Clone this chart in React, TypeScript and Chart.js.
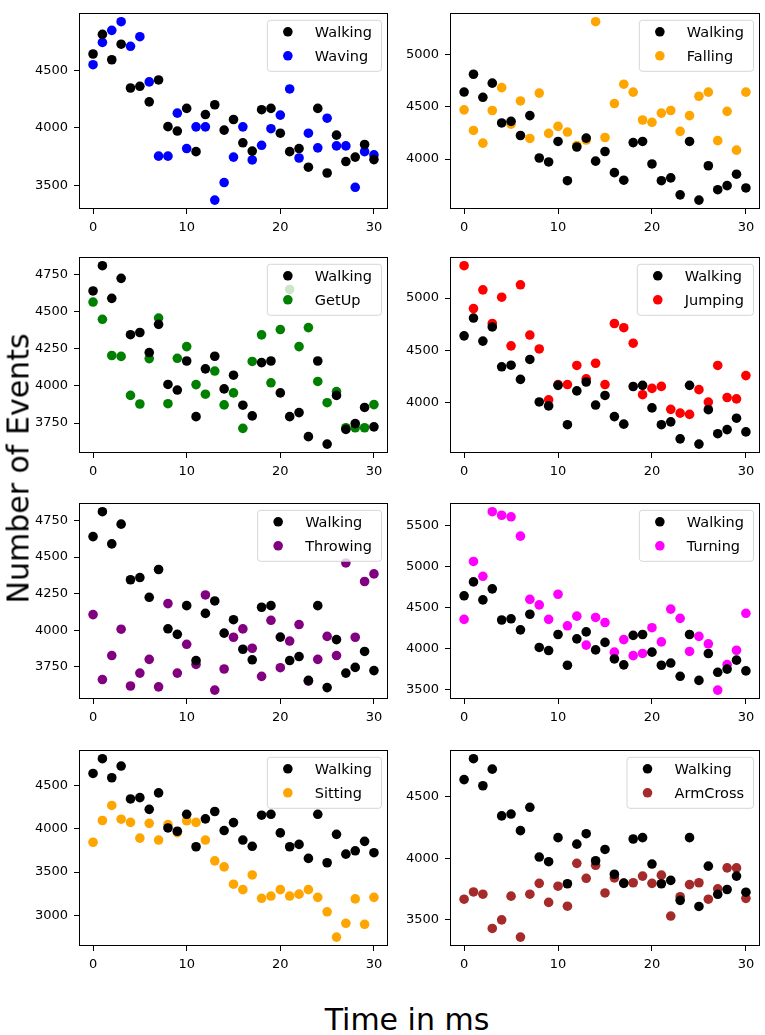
import React, { useEffect, useRef } from 'react';
import { Chart, registerables } from 'chart.js';

Chart.register(...registerables);

// time steps (ms)
const time = [0, 1, 2, 3, 4, 5, 6, 7, 8, 9, 10, 11, 12, 13, 14, 15, 16, 17, 18, 19, 20, 21, 22, 23, 24, 25, 26, 27, 28, 29, 30];
const xTicks = [0, 10, 20, 30];

// event counts per activity
const walking = [4640, 4810, 4590, 4725, 4345, 4360, 4225, 4415, 4010, 3972, 4168, 3793, 4115, 4200, 3980, 4072, 3870, 3798, 4157, 4168, 3953, 3793, 3820, 3658, 4168, 3608, 3936, 3707, 3746, 3855, 3724];
const waving = [4547, 4740, 4845, 4920, 4707, 4790, 4398, 3754, 3754, 4127, 3820, 4008, 4008, 3373, 3525, 3746, 4008, 3721, 3848, 3992, 4110, 4337, 3738, 3953, 3826, 4083, 3843, 3843, 3484, 3793, 3765];
const falling = [4470, 4273, 4152, 4464, 4682, 4333, 4555, 4197, 4630, 4245, 4312, 4258, 4130, 4182, 5312, 4206, 4530, 4715, 4639, 4373, 4351, 4439, 4464, 4264, 4415, 4600, 4639, 4176, 4455, 4085, 4639];
const getUp = [4565, 4449, 4205, 4199, 3936, 3878, 4184, 4457, 3880, 4186, 4265, 4009, 3944, 4100, 3872, 3953, 3714, 4165, 4344, 4021, 4380, 4650, 4265, 4393, 4030, 3887, 3962, 3718, 3718, 3718, 3874];
const jumping = [5309, 4900, 5079, 4758, 5009, 4545, 5127, 4648, 4515, 4030, 4176, 4176, 4358, 4230, 4379, 4176, 4758, 4718, 4570, 4079, 4139, 4158, 3939, 3903, 3891, 4127, 4009, 4358, 4052, 4039, 4261];
const throwing = [4107, 3663, 3827, 4007, 3619, 3707, 3801, 3613, 4182, 3707, 3904, 3766, 4241, 3591, 3735, 3952, 4009, 3877, 3685, 4068, 3744, 3926, 4039, 3652, 3801, 3958, 3827, 4460, 3952, 4333, 4385];
const turning = [4353, 5059, 4878, 5666, 5623, 5604, 5368, 4596, 4529, 4353, 4659, 4274, 4392, 4039, 4376, 4314, 3953, 4106, 3910, 3937, 4251, 4078, 4478, 4365, 3961, 4145, 4055, 3490, 3800, 3976, 4427];
const sitting = [3845, 4096, 4270, 4111, 4074, 3893, 4063, 3870, 4048, 3956, 4093, 4074, 3870, 3630, 3560, 3360, 3297, 3467, 3197, 3223, 3297, 3223, 3245, 3297, 3208, 3041, 2749, 2908, 3190, 2897, 3208];
const armCross = [3667, 3726, 3708, 3429, 3499, 3692, 3359, 3708, 3796, 3641, 3773, 3610, 3959, 3837, 3943, 3718, 3840, 3796, 3801, 3855, 3796, 3863, 3530, 3687, 3786, 3801, 3667, 3752, 3922, 3922, 3674];

// y tick labels per panel
const ticksWaving = [3500, 4000, 4500];
const ticksFalling = [4000, 4500, 5000];
const ticksGetUp = [3750, 4000, 4250, 4500, 4750];
const ticksJumping = [4000, 4500, 5000];
const ticksThrowing = [3750, 4000, 4250, 4500, 4750];
const ticksTurning = [3500, 4000, 4500, 5000, 5500];
const ticksSitting = [3000, 3500, 4000, 4500];
const ticksArmCross = [3500, 4000, 4500];

const FONT = '"DejaVu Sans", sans-serif';
const Y_AXIS_W = 60;
const X_AXIS_H = 36;
const PAD = 6;

// matplotlib-like frame and in-axes legend
const mplPlugin = {
    id: 'mplFrameLegend',
    afterDatasetsDraw(chart: any) {
        const { ctx, chartArea: a } = chart;
        ctx.save();
        ctx.strokeStyle = '#000';
        ctx.lineWidth = 1;
        const l = Math.round(a.left) + 0.5;
        const t = Math.round(a.top) + 0.5;
        const r = Math.round(a.right) - 0.5;
        const b = Math.round(a.bottom) - 0.5;
        ctx.strokeRect(l, t, r - l, b - t);

        const items = chart.data.datasets.map((d: any) => ({ label: d.label, color: d.backgroundColor }));
        ctx.font = `14.5px ${FONT}`;
        const textW = Math.max(...items.map((it: any) => ctx.measureText(it.label).width));
        const boxW = 48 + textW + 9;
        const boxH = 51;
        const bx = a.right - 7 - boxW;
        const by = a.top + 7;
        ctx.beginPath();
        ctx.roundRect(bx + 0.5, by + 0.5, boxW, boxH, 3);
        ctx.fillStyle = 'rgba(255,255,255,0.8)';
        ctx.fill();
        ctx.strokeStyle = 'rgba(204,204,204,0.8)';
        ctx.stroke();
        items.forEach((it: any, k: number) => {
            const cy = by + 12 + k * 24;
            ctx.beginPath();
            ctx.arc(bx + 21, cy, 4.8, 0, Math.PI * 2);
            ctx.fillStyle = it.color;
            ctx.fill();
            ctx.fillStyle = '#000';
            ctx.textBaseline = 'middle';
            ctx.textAlign = 'left';
            ctx.fillText(it.label, bx + 48, cy + 1);
        });
        ctx.restore();
    },
};

type PanelProps = {
    label: string;
    color: string;
    values: number[];
    yTicks: number[];
    left: number;
    top: number;
    width: number;
    height: number;
};

const ScatterPanel: React.FC<PanelProps> = ({ label, color, values, yTicks, left, top, width, height }) => {
    const canvasRef = useRef<HTMLCanvasElement | null>(null);

    useEffect(() => {
        const canvas = canvasRef.current;
        if (!canvas) return;

        const all = walking.concat(values);
        const lo = Math.min(...all);
        const hi = Math.max(...all);
        const margin = (hi - lo) * 0.05;

        const chart = new Chart(canvas, {
            type: 'scatter',
            data: {
                datasets: [
                    {
                        label: 'Walking',
                        data: time.map((t, i) => ({ x: t, y: walking[i] })),
                        backgroundColor: '#000000',
                        borderWidth: 0,
                        pointRadius: 4.8,
                    },
                    {
                        label,
                        data: time.map((t, i) => ({ x: t, y: values[i] })),
                        backgroundColor: color,
                        borderWidth: 0,
                        pointRadius: 4.8,
                    },
                ],
            },
            options: {
                animation: false,
                responsive: true,
                maintainAspectRatio: false,
                layout: { padding: { top: PAD, right: PAD, left: 0, bottom: 0 } },
                plugins: {
                    legend: { display: false },
                    tooltip: { enabled: false },
                },
                scales: {
                    x: {
                        type: 'linear',
                        min: -1.5,
                        max: 31.5,
                        afterBuildTicks: (scale: any) => {
                            scale.ticks = xTicks.map((v) => ({ value: v }));
                        },
                        afterFit: (scale: any) => {
                            scale.height = X_AXIS_H;
                        },
                        grid: { display: true, drawOnChartArea: false, drawTicks: true, tickLength: 5, color: '#000' },
                        border: { display: false },
                        ticks: {
                            color: '#000',
                            padding: 6,
                            maxRotation: 0,
                            font: { family: FONT, size: 13 },
                            callback: (v: any) => String(v),
                        },
                    },
                    y: {
                        type: 'linear',
                        min: lo - margin,
                        max: hi + margin,
                        afterBuildTicks: (scale: any) => {
                            scale.ticks = yTicks.map((v) => ({ value: v }));
                        },
                        afterFit: (scale: any) => {
                            scale.width = Y_AXIS_W;
                        },
                        grid: { display: true, drawOnChartArea: false, drawTicks: true, tickLength: 5, color: '#000' },
                        border: { display: false },
                        ticks: {
                            color: '#000',
                            padding: 6,
                            font: { family: FONT, size: 13 },
                            callback: (v: any) => String(v),
                        },
                    },
                },
            },
            plugins: [mplPlugin],
        } as any);

        return () => {
            chart.destroy();
        };
    }, [label, color, values, yTicks]);

    return (
        <div
            style={{
                position: 'absolute',
                left: left - Y_AXIS_W,
                top: top - PAD,
                width: width + Y_AXIS_W + PAD,
                height: height + PAD + X_AXIS_H,
            }}
        >
            <canvas ref={canvasRef} />
        </div>
    );
};

const colLeft = [79, 450];
const colWidth = [309, 310];
const rowTop = [5, 249, 495, 742];
const plotH = 204;

const panels = [
    { label: 'Waving', color: '#0000ff', values: waving, yTicks: ticksWaving },
    { label: 'Falling', color: '#ffa500', values: falling, yTicks: ticksFalling },
    { label: 'GetUp', color: '#008000', values: getUp, yTicks: ticksGetUp },
    { label: 'Jumping', color: '#ff0000', values: jumping, yTicks: ticksJumping },
    { label: 'Throwing', color: '#800080', values: throwing, yTicks: ticksThrowing },
    { label: 'Turning', color: '#ff00ff', values: turning, yTicks: ticksTurning },
    { label: 'Sitting', color: '#ffa500', values: sitting, yTicks: ticksSitting },
    { label: 'ArmCross', color: '#a52a2a', values: armCross, yTicks: ticksArmCross },
];

export default function App() {
    return (
        <div style={{ position: 'absolute', left: 0, top: 0, width: 765, height: 1035, background: '#fff', fontFamily: FONT }}>
            {panels.map((p, i) => (
                <ScatterPanel
                    key={p.label}
                    label={p.label}
                    color={p.color}
                    values={p.values}
                    yTicks={p.yTicks}
                    left={colLeft[i % 2]}
                    top={rowTop[Math.floor(i / 2)]}
                    width={colWidth[i % 2]}
                    height={plotH}
                />
            ))}
            <div
                style={{
                    position: 'absolute',
                    left: 18 - 150,
                    top: 468 - 17.5,
                    width: 300,
                    height: 35,
                    lineHeight: '35px',
                    fontSize: 30,
                    textAlign: 'center',
                    transform: 'rotate(-90deg)',
                    whiteSpace: 'nowrap',
                }}
            >
                Number of Events
            </div>
            <div
                style={{
                    position: 'absolute',
                    left: 407 - 150,
                    top: 1002,
                    width: 300,
                    height: 35,
                    lineHeight: '35px',
                    fontSize: 30,
                    textAlign: 'center',
                    whiteSpace: 'nowrap',
                }}
            >
                Time in ms
            </div>
        </div>
    );
}
